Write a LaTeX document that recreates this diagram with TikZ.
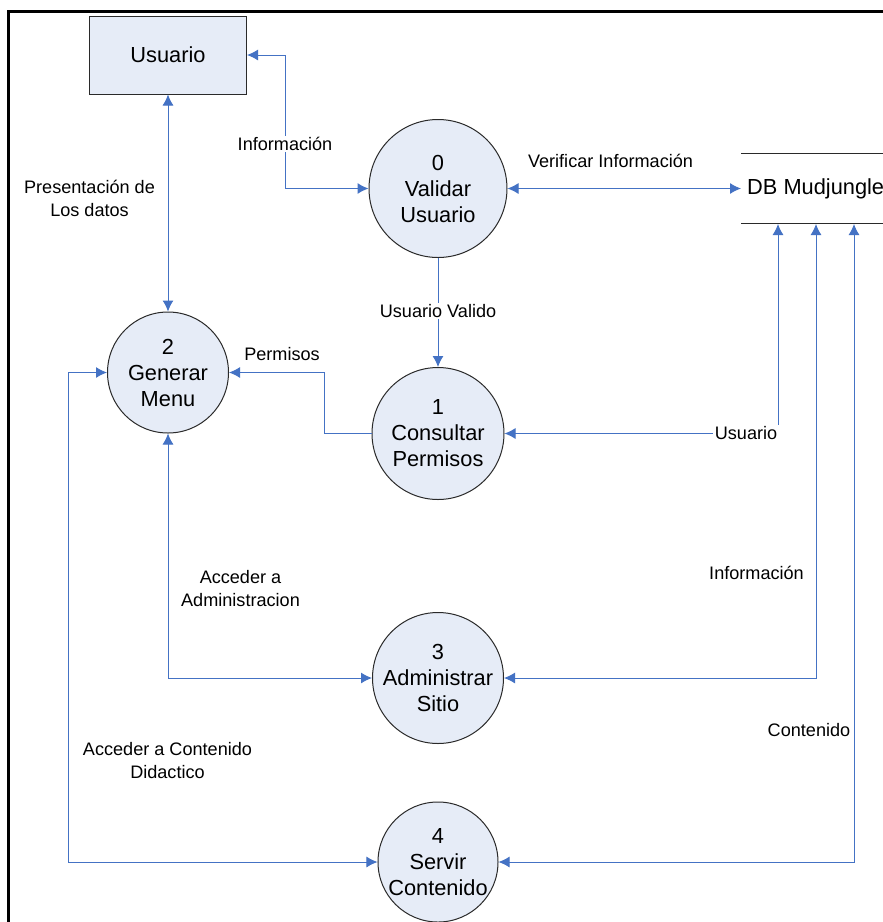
\documentclass[tikz,border=0pt]{standalone}
\usepackage{fontspec}
\setmainfont{Liberation Sans}
\usetikzlibrary{arrows.meta}
\definecolor{flowblue}{HTML}{4472C4}
\definecolor{fillblue}{HTML}{E6ECF7}
\definecolor{edgegray}{HTML}{2A2A2A}
\tikzset{
  proc/.style={circle,draw=edgegray,line width=1pt,fill=fillblue,inner sep=0pt,align=center,font=\fontsize{21.8}{26}\selectfont},
  ent/.style={rectangle,draw=edgegray,line width=1pt,fill=fillblue,inner sep=0pt,font=\fontsize{21.8}{26}\selectfont},
  lab/.style={fill=white,inner sep=1.5pt,align=center,font=\fontsize{18.1}{23}\selectfont},
  flow/.style={draw=flowblue,line width=1pt,-{Latex[length=11pt,width=11pt]}},
  flowb/.style={draw=flowblue,line width=1pt,{Latex[length=11pt,width=11pt]}-{Latex[length=11pt,width=11pt]}},
}
\begin{document}
\begin{tikzpicture}[x=1pt,y=-1pt]
\useasboundingbox (0,0) rectangle (883,922);
\fill[white] (0,0) rectangle (883,922);
\draw[black,line width=3pt] (8.5,930) -- (8.5,11.5) -- (890,11.5);

\node[ent,minimum width=157pt,minimum height=78pt] (usuario) at (168,55) {Usuario};
\node[proc,minimum size=138pt] (c0) at (438,188.5) {0\\Validar\\Usuario};
\node[proc,minimum size=132pt] (c1) at (438,433.5) {1\\Consultar\\Permisos};
\node[proc,minimum size=121pt] (c2) at (168,372.5) {2\\Generar\\Menu};
\node[proc,minimum size=131pt] (c3) at (438,678) {3\\Administrar\\Sitio};
\node[proc,minimum size=120pt] (c4) at (438,862) {4\\Servir\\Contenido};

\node[inner sep=0pt,minimum width=142pt,minimum height=70pt,font=\fontsize{21.8}{26}\selectfont,anchor=west] (db) at (741,188.5) {\hspace*{6pt}DB Mudjungle\hfill};
\draw[edgegray,line width=1pt] (db.north west) -- (db.north east);
\draw[edgegray,line width=1pt] (db.south west) -- (db.south east);
\coordinate (dbA) at (778,224);
\coordinate (dbB) at (816,224);
\coordinate (dbC) at (854,224);
\coordinate (bendA) at (285,55);
\coordinate (bendB) at (324,433.5);
\coordinate (bendC) at (68,372.5);

\draw[flowb] (usuario.east) -- (bendA) |- (c0.west);
\draw[flowb] (usuario.south) -- (c2.north);
\draw[flowb] (c0.east) -- (db.west);
\draw[flow] (c0.south) -- (c1.north);
\draw[flow] (c1.west) -- (bendB) |- (c2.east);
\draw[flowb] (c1.east) -| (dbA);
\draw[flowb] (c3.east) -| (dbB);
\draw[flowb] (c4.east) -| (dbC);
\draw[flowb] (c2.south) |- (c3.west);
\draw[flowb] (c2.west) -- (bendC) |- (c4.west);

\node[lab] (lInfA) at (285,144) {Información};
\node[lab] (lVal) at (438,311) {Usuario Valido};
\node[lab] (lPres) at (89.5,198) {Presentación de\\Los datos};
\node[lab] (lVer) at (610.5,160.5) {Verificar Información};
\node[lab] (lPer) at (282,354) {Permisos};
\node[lab] (lUsu) at (746,433) {Usuario};
\node[lab] (lInf) at (756.5,573) {Información};
\node[lab] (lAcc) at (240.5,589) {Acceder a\\Administracion};
\node[lab] (lCont) at (809,730.5) {Contenido};
\node[lab] (lDid) at (167.5,761) {Acceder a Contenido\\Didactico};
\end{tikzpicture}
\end{document}
